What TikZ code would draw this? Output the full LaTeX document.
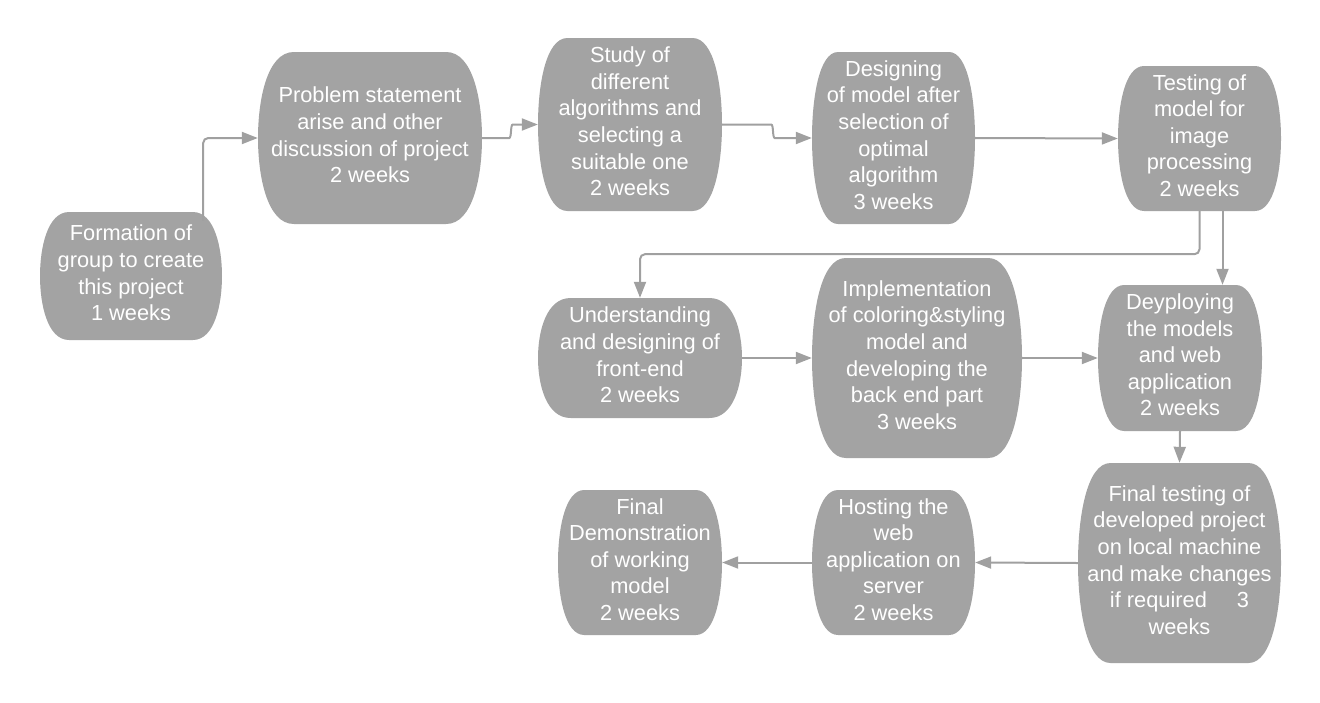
\documentclass[tikz,border=0pt]{standalone}
\usepackage{fontspec}
\setmainfont{Liberation Sans}
\usetikzlibrary{arrows.meta,calc}
\definecolor{boxgray}{HTML}{A3A3A3}
\definecolor{linegray}{HTML}{A0A0A0}
\tikzset{
  boxfill/.style={fill=boxgray},
  txt/.style={text=white, align=center, inner sep=0pt, font=\fontsize{21.8}{26.6}\selectfont},
  conn/.style={draw=linegray, line width=2pt, rounded corners=5pt, -{Triangle[length=16pt,width=12pt]}}
}
\newcommand\barrel[6]{%
  \pgfmathsetmacro\bw{#4-#2}%
  \pgfmathsetmacro\ba{0.16*\bw}%
  \pgfmathsetmacro\bm{(#3+#5)/2}%
  \pgfmathsetmacro\bh{#5-#3}%
  \fill[boxfill] (#2+\ba,#3) -- (#4-\ba,#3)
    .. controls (#4-0.25*\ba,#3) and (#4,#3+0.28*\bh) .. (#4,\bm)
    .. controls (#4,#5-0.28*\bh) and (#4-0.25*\ba,#5) .. (#4-\ba,#5)
    -- (#2+\ba,#5)
    .. controls (#2+0.25*\ba,#5) and (#2,#5-0.28*\bh) .. (#2,\bm)
    .. controls (#2,#3+0.28*\bh) and (#2+0.25*\ba,#3) .. cycle;
  \node[txt, minimum width=\bw pt, minimum height=\bh pt] (#1) at ({(#2+#4)/2},\bm) {};
  \node[txt, yshift=3pt] at (#1.center) {#6};
}
\begin{document}
\begin{tikzpicture}[x=1pt,y=-1pt]
\useasboundingbox (0,0) rectangle (1320,702);
\barrel{form}{40}{212}{222}{340}{Formation of\\group to create\\this project\\1 weeks}
\barrel{prob}{258}{52}{482}{224}{Problem statement\\arise and other\\discussion of project\\2 weeks}
\barrel{study}{538}{38}{722}{211}{Study of\\different\\algorithms and\\selecting a\\suitable one\\2 weeks}
\barrel{des}{812}{52}{975}{224}{Designing\\of model after\\selection of\\optimal\\algorithm\\3 weeks}
\barrel{test}{1118}{66}{1281}{211}{Testing of\\model for\\image\\processing\\2 weeks}
\barrel{und}{538}{298}{742}{418}{Understanding\\and designing of\\front-end\\2 weeks}
\barrel{impl}{812}{258}{1022}{458}{Implementation\\of coloring\&styling\\model and\\developing the\\back end part\\3 weeks}
\barrel{depl}{1098}{285}{1262}{431}{Deyploying\\the models\\and web\\application\\2 weeks}
\barrel{ftest}{1078}{463}{1281}{663}{Final testing of\\developed project\\on local machine\\and make changes\\if required\hspace{30pt}3\\weeks}
\barrel{host}{812}{490}{975}{635}{Hosting the\\web\\application on\\server\\2 weeks}
\barrel{demo}{558}{490}{722}{635}{Final\\Demonstration\\of working\\model\\2 weeks}

\coordinate (fstart) at ($(form.north east)+(-19,9)$);
\draw[conn] (fstart) |- (prob.west);
\draw[conn] (prob.east) -- ++(22,0) to[out=0,in=180] ($(study.west)+(-20,0)$) -- (study.west);
\draw[conn] (study.east) -- ++(44,0) to[out=0,in=180] ($(des.west)+(-32,0)$) -- (des.west);
\draw[conn] (des.east) -- (test.west);
\draw[conn] (test.south) -- ++(0,43) -| (und.north);
\coordinate (t2) at ($(test.south)+(23,0)$);
\draw[conn] (t2) -- (t2 |- depl.north);
\draw[conn] (und.east) -- (impl.west);
\draw[conn] (impl.east) -- (depl.west);
\draw[conn] (depl.south) -- (ftest.north);
\draw[conn] (ftest.west) -- (host.east);
\draw[conn] (host.west) -- (demo.east);
\end{tikzpicture}
\end{document}
